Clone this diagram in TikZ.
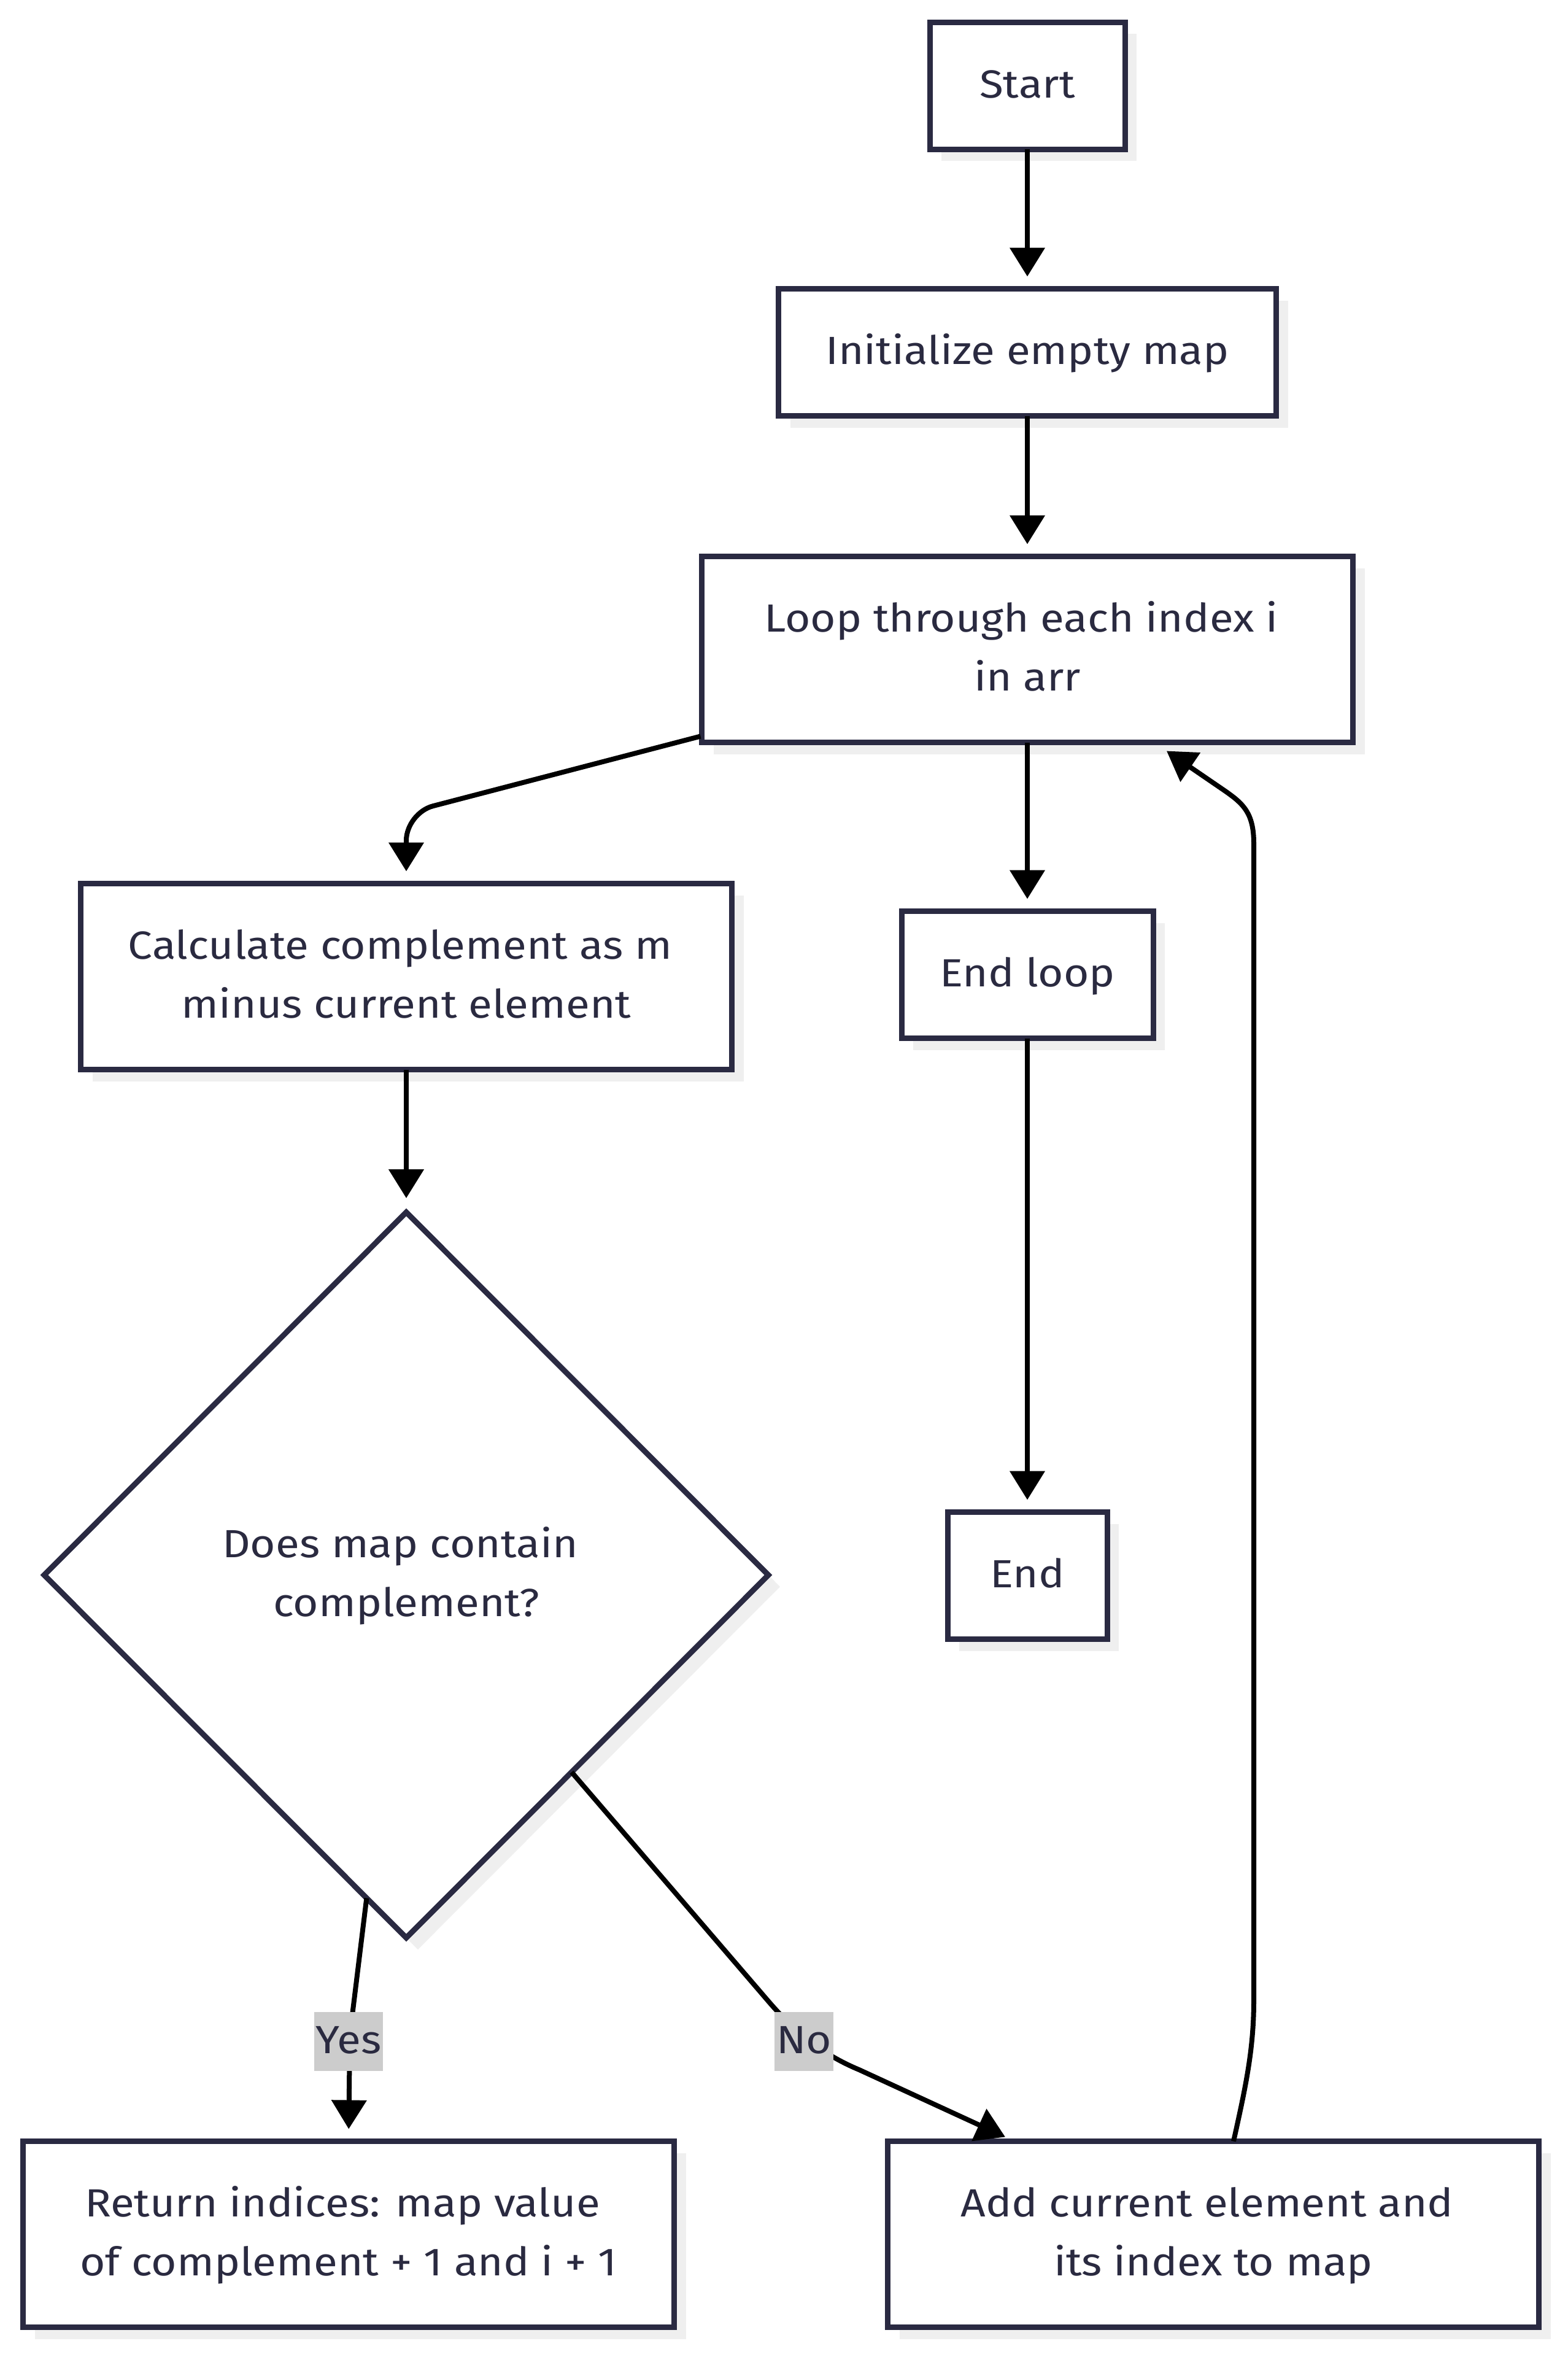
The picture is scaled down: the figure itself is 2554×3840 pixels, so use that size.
\documentclass[tikz,border=0pt]{standalone}
\usepackage{fontspec}
\setmainfont[FakeStretch=1.11]{Fira Sans}
\usetikzlibrary{arrows.meta,shapes.geometric,calc,shadows}
\definecolor{ink}{HTML}{2A2A40}
\definecolor{frame}{HTML}{2A2A42}
\definecolor{shade}{HTML}{EFEFEF}
\definecolor{tag}{HTML}{CCCCCC}
\newcommand\trail{\hbox to 20pt{}}
\begin{document}
\begin{tikzpicture}[x=1pt,y=-1pt,
  every node/.style={font=\fontsize{64}{96}\selectfont, text=ink},
  proc/.style={draw=frame, line width=9pt, fill=white, inner sep=0pt, outer sep=0pt,
    align=center, minimum height=207pt,
    drop shadow={shadow xshift=19pt, shadow yshift=-19pt, fill=shade, opacity=1}},
  tall/.style={proc, minimum width=1061pt, minimum height=303pt},
  decide/.style={diamond, draw=frame, line width=9pt, fill=white, inner sep=0pt, outer sep=0pt,
    align=center, minimum width=1180pt, minimum height=1182pt,
    drop shadow={shadow xshift=19pt, shadow yshift=-19pt, fill=shade, opacity=1}},
  tagbox/.style={fill=tag, inner xsep=3pt, inner ysep=0pt, minimum height=96pt},
  link/.style={draw=black, line width=8pt, -{Triangle[length=47pt,width=56pt]}, shorten >=20pt}
]
\useasboundingbox (0,0) rectangle (2554,3840);
\fill[white] (0,0) rectangle (2554,3840);

% process boxes
\node[proc, minimum width=318pt] (start) at (1674,140) {\strut Start};
\node[proc, minimum width=811pt] (init) at (1674,574) {\strut Initialize empty map};
\node[tall] (loop) at (1674,1058) {\strut Loop through each index i\trail\\\strut in arr};
\node[proc, minimum width=410pt] (endloop) at (1674,1588) {\strut End loop};
\node[proc, minimum width=260pt] (fin) at (1674,2567) {\strut End};
\node[tall] (calc) at (662,1591) {\strut Calculate complement as m\trail\\\strut minus current element};
\node[decide] (dec) at (662,2566) {\strut Does map contain\trail\\\strut complement?};
\node[tall] (ret) at (568,3640) {\strut Return indices: map value\trail\\\strut of complement + 1 and i + 1};
\node[tall] (add) at (1977,3640) {\strut Add current element and\trail\\\strut its index to map};

\coordinate (yespt) at (568,3326);
\coordinate (nopt) at (1310,3326);

% connectors
\draw[link] (start) -- (init);
\draw[link] (init) -- (loop);
\draw[link] (loop) -- (endloop);
\draw[link] (endloop) -- (fin);
\draw[link, rounded corners=45pt] ($(loop.south west)+(-2,-10)$) -- ($(calc.north)+(0,-115)$) -- (calc.north);
\draw[link, shorten >=23pt] (calc) -- (dec);
\draw[link] (dec.263) -- ($(yespt)+(2,-10)$) -- (ret.north);
\draw[link, shorten >=0pt] (dec.310) -- ($(nopt)+(-60,-68)$)
  .. controls ($(nopt)+(-20,-21)$) and ($(nopt)+(25,19)$) .. ($(nopt)+(90,46)$)
  -- ($(add.north)+(-339,-7)$);
\draw[link, shorten >=0pt] ($(add.north)+(33,0)$)
  .. controls ($(add.north)+(53,-90)$) and ($(add.north)+(66,-150)$) .. ($(add.north)+(66,-230)$)
  -- ($(loop.south)+(369,165)$)
  .. controls ($(loop.south)+(369,115)$) and ($(loop.south)+(352,100)$) .. ($(loop.south)+(322,79)$)
  -- ($(loop.south)+(227,14)$);

% edge labels
\node[tagbox] (yes) at (yespt) {\strut Yes};
\node[tagbox] (no) at (nopt) {\strut No};
\end{tikzpicture}
\end{document}
